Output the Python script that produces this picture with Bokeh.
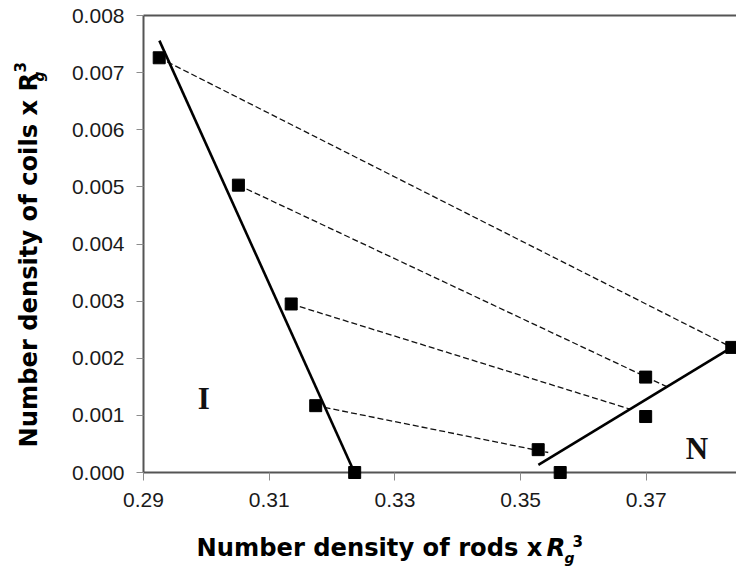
import numpy as np
from bokeh.plotting import figure
from bokeh.models import Range1d, FixedTicker, PrintfTickFormatter, Label
from bokeh.embed import file_html
from bokeh.resources import INLINE

# Coexisting compositions (number density x Rg^3)
rods_I = [0.2925, 0.3051, 0.3135, 0.3174, 0.3236]
coils_I = [0.00726, 0.00503, 0.00295, 0.00117, 0.0]
rods_N = [0.3528, 0.3563, 0.3699, 0.3699, 0.3836]
coils_N = [0.00040, 0.0, 0.00167, 0.00098, 0.00219]

# Phase boundaries (solid lines)
bound_I_x = [0.29253, 0.32356]
bound_I_y = [0.00756, 0.0]
bound_N_x = [0.35283, 0.3836]
bound_N_y = [0.000135, 0.00219]

# Tie lines (dashed), from the isotropic side to the nematic boundary
tie_x0 = [0.2925, 0.3051, 0.3135, 0.3174]
tie_y0 = [0.00726, 0.00503, 0.00295, 0.00117]
tie_x1 = [0.3836, 0.3735, 0.3674, 0.3544]
tie_y1 = [0.00219, 0.00149, 0.00111, 0.00035]

x_ticks = [0.29, 0.31, 0.33, 0.35, 0.37]
y_ticks = [0.0, 0.001, 0.002, 0.003, 0.004, 0.005, 0.006, 0.007, 0.008]

# Page geometry (pixels)
W, H = 736, 568
FL, FR, FT, FB = 140, 736, 12, 480      # plotting frame box
X0_PX, Y0_PX = 143, 472                 # where x=0.29 and y=0 sit
PX_PER_X = 125.7 / 0.02
PX_PER_Y = 457.0 / 0.008

x_start = 0.29 - (X0_PX - FL) / PX_PER_X
x_end = 0.29 + (FR - X0_PX) / PX_PER_X
y_start = -(FB - Y0_PX) / PX_PER_Y
y_end = (Y0_PX - FT) / PX_PER_Y


def xd(px):
    return 0.29 + (px - X0_PX) / PX_PER_X


def yd(py):
    return (Y0_PX - py) / PX_PER_Y


p = figure(width=W, height=H,
           x_range=Range1d(x_start, x_end), y_range=Range1d(y_start, y_end),
           output_backend="svg", toolbar_location=None,
           min_border_left=FL, min_border_right=0,
           min_border_top=FT, min_border_bottom=H - FB)
p.outline_line_color = None
p.xgrid.visible = False
p.ygrid.visible = False
p.background_fill_color = "white"
p.border_fill_color = "white"

TICK_FONT = "Liberation Sans"
for ax in (p.xaxis[0], p.yaxis[0]):
    ax.axis_line_color = None
    ax.minor_tick_line_color = None
    ax.major_tick_line_color = "#8c8c8c"
    ax.major_tick_line_width = 1
    ax.major_label_text_font = TICK_FONT
    ax.major_label_text_font_size = "21px"
    ax.major_label_text_color = "#1a1a1a"

p.yaxis.ticker = FixedTicker(ticks=y_ticks)
p.yaxis.formatter = PrintfTickFormatter(format="%.3f")
p.yaxis.major_tick_out = 4
p.yaxis.major_tick_in = 3
p.yaxis.major_label_standoff = 12

p.xaxis.ticker = FixedTicker(ticks=x_ticks)
p.xaxis.formatter = PrintfTickFormatter(format="%.2f")
p.xaxis.major_tick_out = 0
p.xaxis.major_tick_in = 8
p.xaxis.major_label_standoff = 12

# plot-area border: left, bottom and top edges
p.segment(x0=[0.29, 0.29, 0.29], y0=[0.0, 0.0, 0.008],
          x1=[0.29, x_end, x_end], y1=[0.008, 0.0, 0.008],
          line_color="#555555", line_width=2)

# tie lines
p.segment(x0=tie_x0, y0=tie_y0, x1=tie_x1, y1=tie_y1,
          line_color="#111111", line_width=1.3, line_dash="6 3")

# phase boundaries
p.line(bound_I_x, bound_I_y, line_color="black", line_width=2.6)
p.line(bound_N_x, bound_N_y, line_color="black", line_width=2.6)

# coexisting points
p.scatter(rods_I + rods_N, coils_I + coils_N, marker="square", size=12,
          fill_color="black", line_color="black")

# phase labels
for txt, cx, by in (("I", 203.3, 398.3), ("N", 696.5, 448.3)):
    p.add_layout(Label(x=xd(cx), y=yd(by), text=txt,
                       text_font="Liberation Serif", text_font_style="bold",
                       text_font_size="31px", text_align="center",
                       text_baseline="alphabetic", text_color="#111111"))

TITLE_FONT = "DejaVu Sans"


def title_piece(text, px, py, size, style, side, angle=0.0):
    # axis-title fragments live in the side panels so they are not
    # clipped by the plotting frame; (px, py) is the middle of the text line
    p.add_layout(Label(x=xd(px), y=yd(py), text=text, angle=angle,
                       text_font=TITLE_FONT, text_font_style=style,
                       text_font_size=size, text_align="left",
                       text_baseline="middle", text_color="black"), side)


A = np.pi / 2

# x-axis title: Number density of rods x Rg^3
title_piece("Number density of rods x", 196, 547, "24.2px", "bold", "below")
title_piece("R", 546, 547, "24.5px", "bold italic", "left")
title_piece("g", 564, 557, "14px", "bold italic", "left")
title_piece("3", 572, 540.6, "15px", "bold", "left")

# y-axis title (rotated): Number density of coils x Rg^3
title_piece("Number density of coils x R", 28.2, 447, "24.2px", "bold", "left", A)
title_piece("g", 38, 81, "14px", "bold italic", "below", A)
title_piece("3", 19.6, 72, "15px", "bold", "above", A)

open("out.html", "w").write(file_html(p, INLINE))
